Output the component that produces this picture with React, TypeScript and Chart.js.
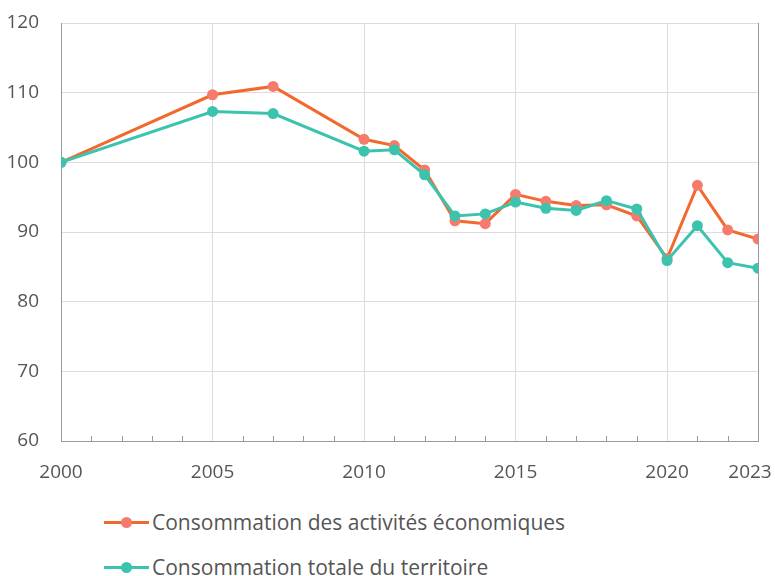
import React, { useEffect, useRef } from "react";
import { Chart, registerables } from "chart.js";

Chart.register(...registerables);

const years = [2000, 2005, 2007, 2010, 2011, 2012, 2013, 2014, 2015, 2016, 2017, 2018, 2019, 2020, 2021, 2022, 2023];
const activites = [100, 109.7, 110.9, 103.3, 102.4, 98.9, 91.6, 91.2, 95.4, 94.4, 93.8, 93.9, 92.3, 86.2, 96.7, 90.3, 89.0];
const total = [100, 107.3, 107.0, 101.6, 101.8, 98.2, 92.3, 92.6, 94.3, 93.4, 93.1, 94.5, 93.3, 85.9, 90.9, 85.6, 84.8];
const xLabels = [2000, 2005, 2010, 2015, 2020, 2023];
const seriesNames = ["Consommation des activités économiques", "Consommation totale du territoire"];

const ORANGE_LINE = "#F2692E";
const ORANGE_PT = "#F77B6C";
const TEAL = "#3CC3AE";
const FONT = "'Open Sans', 'DejaVu Sans', sans-serif";
const TEXT = "#555555";

const minorTicks = {
  id: "minorTicks",
  beforeDraw(chart: any) {
    // keep the last x label inside the canvas (shifted left like the reference)
    const items = chart.scales.x.getLabelItems();
    const last = items[items.length - 1];
    if (last && !last._shifted) {
      last.options.translation[0] -= 8;
      last._shifted = true;
    }
  },
  afterDatasetsDraw(chart: any) {
    const x = chart.scales.x;
    const area = chart.chartArea;
    const ctx = chart.ctx;
    ctx.save();
    ctx.strokeStyle = "#9a9a9a";
    ctx.lineWidth = 1;
    for (let v = 2001; v < 2023; v++) {
      if (v % 5 === 0) continue;
      const px = Math.round(x.getPixelForValue(v)) + 0.5;
      ctx.beginPath();
      ctx.moveTo(px, area.bottom);
      ctx.lineTo(px, area.bottom - 5);
      ctx.stroke();
    }
    ctx.restore();
  },
};

export default function App() {
  const ref = useRef<HTMLCanvasElement | null>(null);
  useEffect(() => {
    document.body.style.margin = "0";
    const chart = new Chart(ref.current as HTMLCanvasElement, {
      type: "line",
      data: {
        datasets: [
          {
            label: seriesNames[0],
            data: years.map((y, i) => ({ x: y, y: activites[i] })),
            borderColor: ORANGE_LINE,
            backgroundColor: ORANGE_PT,
            pointBackgroundColor: ORANGE_PT,
            pointBorderColor: ORANGE_PT,
            pointBorderWidth: 0,
            pointRadius: 5.5,
            borderWidth: 3,
            order: 2,
          },
          {
            label: seriesNames[1],
            data: years.map((y, i) => ({ x: y, y: total[i] })),
            borderColor: TEAL,
            backgroundColor: TEAL,
            pointBackgroundColor: TEAL,
            pointBorderColor: TEAL,
            pointBorderWidth: 0,
            pointRadius: 5.5,
            borderWidth: 3,
            order: 1,
          },
        ],
      },
      options: {
        animation: false,
        responsive: true,
        maintainAspectRatio: false,
        layout: { padding: { top: 23, right: 17, left: 0, bottom: 0 } },
        plugins: { legend: { display: false }, tooltip: { enabled: false } },
        scales: {
          x: {
            type: "linear",
            min: 2000,
            max: 2023,
            afterFit: (s: any) => {
              s.height = 59;
              s.paddingLeft = 0;
              s.paddingRight = 0;
            },
            afterBuildTicks: (s: any) => {
              s.ticks = xLabels.map((v) => ({ value: v }));
            },
            ticks: {
              autoSkip: false,
              maxRotation: 0,
              padding: 20,
              color: TEXT,
              font: { family: FONT, size: 19 },
              callback: (v: any) => String(v),
            },
            grid: {
              drawTicks: false,
              color: (c: any) => {
                const v = c.tick && c.tick.value;
                if (v === 2023) return "#9a9a9a";
                if (v === 2000) return "rgba(0,0,0,0)";
                return "#dcdcdc";
              },
              lineWidth: 1,
            },
            border: { color: "#9a9a9a", width: 1 },
          },
          y: {
            min: 60,
            max: 120,
            afterFit: (s: any) => {
              s.width = 61;
              s.paddingTop = 0;
              s.paddingBottom = 0;
            },
            ticks: {
              stepSize: 10,
              padding: 22,
              color: TEXT,
              font: { family: FONT, size: 19 },
            },
            grid: { drawTicks: false, color: "#dcdcdc" },
            border: { color: "#9a9a9a", width: 1 },
          },
        },
      },
      plugins: [minorTicks],
    });
    return () => chart.destroy();
  }, []);

  const legendItem = (name: string, line: string, pt: string, top: number) => (
    <div
      key={name}
      style={{ position: "absolute", left: 104, top: top - 15, height: 30, display: "flex", alignItems: "center" }}
    >
      <span style={{ position: "relative", width: 45, height: 3, background: line, display: "inline-block" }}>
        <span
          style={{
            position: "absolute",
            left: 17,
            top: -4,
            width: 11,
            height: 11,
            borderRadius: "50%",
            background: pt,
          }}
        />
      </span>
      <span style={{ marginLeft: 3, fontFamily: FONT, fontSize: 21, color: TEXT, whiteSpace: "nowrap" }}>{name}</span>
    </div>
  );

  return (
    <div style={{ position: "relative", width: 775, height: 576, overflow: "hidden", background: "#fff" }}>
      <div style={{ position: "absolute", left: 0, top: 0, width: 775, height: 500 }}>
        <canvas ref={ref} />
      </div>
      {legendItem(seriesNames[0], ORANGE_LINE, ORANGE_PT, 522)}
      {legendItem(seriesNames[1], TEAL, TEAL, 567)}
    </div>
  );
}
